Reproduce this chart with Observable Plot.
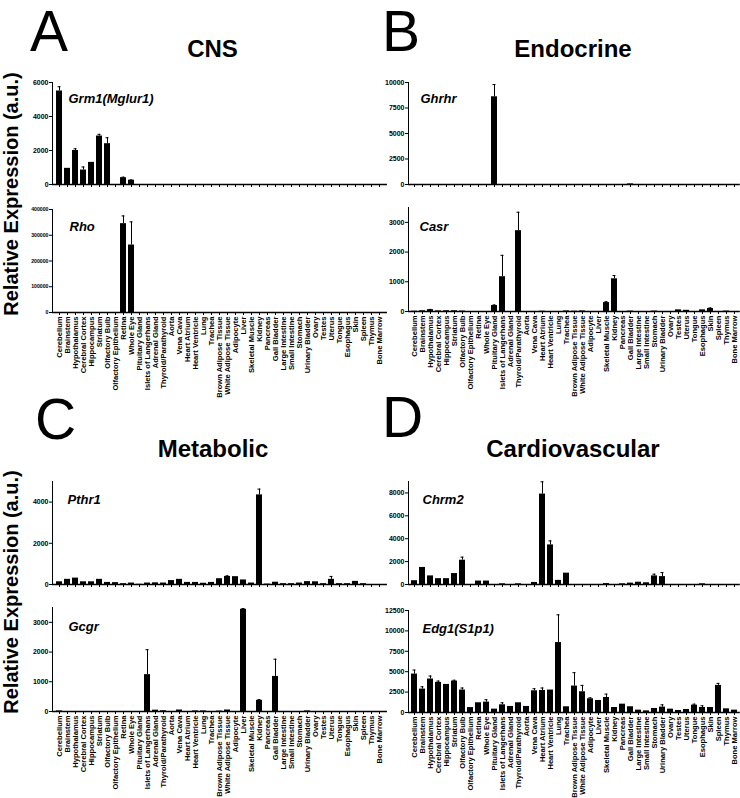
<!DOCTYPE html>
<html><head><meta charset="utf-8">
<script src="https://cdn.jsdelivr.net/npm/d3@7"></script>
<script src="https://cdn.jsdelivr.net/npm/@observablehq/plot@0.6"></script>
<style>
html,body{margin:0;padding:0;background:#fff;}
#fig{position:relative;width:740px;height:798px;overflow:hidden;background:#fff;font-family:"Liberation Sans",Arial,sans-serif;color:#000;}
.lbl{position:absolute;white-space:nowrap;line-height:1;}
.letter{font-size:57px;font-weight:normal;}
.title{font-size:24px;font-weight:bold;width:300px;text-align:center;}
.ylab{font-size:20px;font-weight:bold;width:300px;text-align:center;transform:translate(-50%,-50%) rotate(-90deg);}
g[aria-label="y-axis tick label"]{font-size:7px;}
.small g[aria-label="y-axis tick label"]{font-size:5.2px;}
</style></head><body><div id="fig"></div><script>
const tissues = ["Cerebellum","Brainstem","Hypothalamus","Cerebral Cortex","Hippocampus","Striatum","Olfactory Bulb","Olfactory Epithelium","Retina","Whole Eye","Pituitary Gland","Islets of Langerhans","Adrenal Gland","Thyroid/Parathyroid","Aorta","Vena Cava","Heart Atrium","Heart Ventricle","Lung","Trachea","Brown Adipose Tissue","White Adipose Tissue","Adipocyte","Liver","Skeletal Muscle","Kidney","Pancreas","Gall Bladder","Large Intestine","Small Intestine","Stomach","Urinary Bladder","Ovary","Testes","Uterus","Tongue","Esophagus","Skin","Spleen","Thymus","Bone Marrow"];

const panelLetters = ["A","B","C","D"];
const panelTitles = ["CNS","Endocrine","Metabolic","Cardiovascular"];
const yAxisTitle = "Relative Expression (a.u.)";
const genes = ["Grm1(Mglur1)","Rho","Ghrhr","Casr","Pthr1","Gcgr","Chrm2","Edg1(S1p1)"];

const grm1    = [5500,950,2000,850,1300,2850,2400,0,400,250,0,0,0,0,0,0,0,0,0,0,0,0,0,0,0,0,0,0,0,0,0,0,0,0,0,0,0,0,0,0,0];
const grm1Err = [250,0,100,180,0,100,350,0,30,20,0,0,0,0,0,0,0,0,0,0,0,0,0,0,0,0,0,0,0,0,0,0,0,0,0,0,0,0,0,0,0];
const rho     = [0,0,0,0,0,0,0,0,345000,262000,0,0,0,0,0,0,0,0,0,0,0,0,0,0,0,0,0,0,0,0,0,0,0,0,0,0,0,0,0,0,0];
const rhoErr  = [0,0,0,0,0,0,0,0,30000,90000,0,0,0,0,0,0,0,0,0,0,0,0,0,0,0,0,0,0,0,0,0,0,0,0,0,0,0,0,0,0,0];
const ghrhr   = [0,0,0,0,0,0,0,0,0,0,8600,0,0,0,0,0,0,0,0,0,0,0,0,0,0,0,0,60,0,0,0,0,0,0,0,0,0,0,0,0,0];
const ghrhrErr= [0,0,0,0,0,0,0,0,0,0,1200,0,0,0,0,0,0,0,0,0,0,0,0,0,0,0,0,0,0,0,0,0,0,0,0,0,0,0,0,0,0];
const casr    = [10,25,60,20,25,25,15,0,0,0,200,1170,0,2720,0,0,10,0,0,20,10,20,0,0,300,1100,0,15,0,0,15,0,0,55,40,0,55,100,0,15,0];
const casrErr = [0,0,10,0,0,0,0,0,0,0,20,720,0,620,0,0,0,0,0,0,0,0,0,0,30,110,0,0,0,0,0,0,0,0,0,0,0,20,0,0,0];
const pthr1   = [130,250,310,130,130,250,100,90,40,70,10,70,80,70,190,250,100,100,60,100,280,390,380,220,70,4350,20,110,40,40,70,140,130,40,250,40,40,150,40,0,0];
const pthr1Err= [0,0,0,0,0,0,0,0,0,0,0,0,0,0,0,0,0,0,0,0,0,30,0,0,0,280,0,0,0,0,0,0,0,0,140,0,0,0,0,0,0];
const gcgr    = [20,0,0,0,0,0,0,0,0,0,0,1240,45,25,0,50,0,20,20,0,15,50,0,3440,0,375,0,1180,0,0,0,20,0,0,0,0,0,0,0,0,0];
const gcgrErr = [0,0,0,0,0,0,0,0,0,0,0,840,0,0,0,0,0,0,0,0,0,0,0,25,0,25,0,580,0,0,0,0,0,0,0,0,0,0,0,0,0];
const chrm2   = [330,1490,750,510,510,955,2120,0,300,300,0,60,0,60,0,180,7900,3460,360,990,0,0,0,0,80,0,60,120,200,150,750,690,0,0,0,0,60,0,0,0,0];
const chrm2Err= [0,0,0,0,0,0,270,0,0,0,0,0,0,0,0,0,1070,350,0,0,0,0,0,0,0,0,0,0,0,0,150,350,0,0,0,0,0,0,0,0,0];
const edg1    = [4710,2870,4100,3690,3440,3850,2750,600,1190,1270,410,940,740,1190,740,2660,2700,2750,8570,700,3240,2540,1680,1475,1840,610,1020,700,290,200,490,660,410,250,370,900,610,610,3320,450,290];
const edg1Err = [490,280,370,160,0,100,250,0,0,290,0,250,0,0,0,250,300,0,3400,0,1640,780,120,0,410,0,0,0,0,0,0,280,0,0,0,120,210,0,250,0,0];

const yTicksGrm1 = [0,2000,4000,6000];
const yTicksRho = [0,100000,200000,300000,400000];
const yTicksGhrhr = [0,2500,5000,7500,10000];
const yTicksCasr = [0,1000,2000,3000];
const yTicksPthr1 = [0,2000,4000];
const yTicksGcgr = [0,1000,2000,3000];
const yTicksChrm2 = [0,2000,4000,6000,8000];
const yTicksEdg1 = [0,2500,5000,7500,10000,12500];

const fig = document.getElementById("fig");

function addLabel(text, cls, left, top) {
  const d = document.createElement("div");
  d.className = "lbl " + cls;
  d.textContent = text;
  d.style.left = left + "px";
  d.style.top = top + "px";
  fig.appendChild(d);
}
// panel letters
const letterPos = [[30,3.4],[382,3.4],[35,390.7],[382,388.7]];
panelLetters.forEach((t,i)=>addLabel(t,"letter",letterPos[i][0],letterPos[i][1]));
// panel titles
const titlePos = [[212.5,37],[573,37],[213,437],[573,437]];
panelTitles.forEach((t,i)=>addLabel(t,"title",titlePos[i][0]-150,titlePos[i][1]));
// y axis titles
addLabel(yAxisTitle,"ylab",10.6,194);
addLabel(yAxisTitle,"ylab",10.6,592);

const subplots = [
  {gene:genes[0], values:grm1,  errors:grm1Err,  yMax:6000,   yTicks:yTicksGrm1,  axisX:52,  topY:82,  zeroY:184, labels:false, step:8.06,  po:0.38, gx:16, gy:11},
  {gene:genes[1], values:rho,   errors:rhoErr,   yMax:400000, yTicks:yTicksRho,   axisX:52,  topY:209, zeroY:312, labels:true,  step:8.06,  po:0.38, gx:17, gy:12, small:true},
  {gene:genes[2], values:ghrhr, errors:ghrhrErr, yMax:10000,  yTicks:yTicksGhrhr, axisX:408, topY:82,  zeroY:184, labels:false, step:8.085, po:0.12, gx:12, gy:11},
  {gene:genes[3], values:casr,  errors:casrErr,  yMax:3500,   yTicks:yTicksCasr,  axisX:408, topY:207, zeroY:311, labels:true,  step:8.085, po:0.12, gx:11, gy:14},
  {gene:genes[4], values:pthr1, errors:pthr1Err, yMax:5000,   yTicks:yTicksPthr1, axisX:52,  topY:481, zeroY:584, labels:false, step:8.06,  po:0.38, gx:15, gy:13},
  {gene:genes[5], values:gcgr,  errors:gcgrErr,  yMax:3500,   yTicks:yTicksGcgr,  axisX:52,  topY:607, zeroY:711, labels:true,  step:8.06,  po:0.38, gx:16, gy:14},
  {gene:genes[6], values:chrm2, errors:chrm2Err, yMax:9000,   yTicks:yTicksChrm2, axisX:408, topY:481, zeroY:584, labels:false, step:8.085, po:0.12, gx:14, gy:13},
  {gene:genes[7], values:edg1,  errors:edg1Err,  yMax:12500,  yTicks:yTicksEdg1,  axisX:408, topY:610, zeroY:712, labels:true,  step:8.085, po:0.12, gx:14, gy:13}
];

function makeSub(p) {
  const data = tissues.map((t,i)=>({tissue:t, value:p.values[i], err:p.errors[i]}));
  const errData = data.filter(d=>d.err>0);
  const ml = 40, mr = 0, mt = 6, mb = p.labels ? 92 : 8;
  const plotH = p.zeroY - p.topY;
  const rangeLen = p.step*(tissues.length - 0.2 + 2*p.po);
  const xOpts = {domain:tissues, paddingInner:0.2, paddingOuter:p.po, align:0.5, tickSize:3, tickPadding:1, label:null};
  if (p.labels) xOpts.tickRotate = -90; else xOpts.tickFormat = () => "";
  const svg = Plot.plot({
    width: ml + rangeLen + mr, height: mt + plotH + mb,
    marginLeft: ml, marginRight: mr, marginTop: mt, marginBottom: mb,
    style: {background:"transparent", fontFamily:'"Liberation Sans", Arial, sans-serif', fontSize:"7.6px", fontWeight:"bold", color:"#000", overflow:"visible"},
    x: xOpts,
    y: {domain:[0,p.yMax], ticks:p.yTicks, tickSize:3, tickPadding:1, tickFormat:d=>String(d), label:null, line:true},
    marks: [
      Plot.barY(data, {x:"tissue", y:"value", fill:"#000"}),
      Plot.ruleX(errData, {x:"tissue", y1:"value", y2:d=>d.value+d.err, stroke:"#000", strokeWidth:1}),
      Plot.tickY(errData, {x:"tissue", y:d=>d.value+d.err, stroke:"#000", strokeWidth:1, insetLeft:1.5, insetRight:1.5}),
      Plot.ruleY([0], {stroke:"#000", strokeWidth:1.3}),
      Plot.text([p.gene], {frameAnchor:"top-left", text:d=>d, dx:p.gx, dy:p.gy, textAnchor:"start", fontSize:13, fontWeight:"bold", fontStyle:"italic", fill:"#000"})
    ]
  });
  svg.style.position = "absolute";
  svg.style.left = (p.axisX - ml) + "px";
  svg.style.top = (p.topY - mt) + "px";
  svg.style.maxWidth = "none";
  if (p.small) svg.classList.add("small");
  fig.appendChild(svg);
}
subplots.forEach(makeSub);
</script></body></html>
